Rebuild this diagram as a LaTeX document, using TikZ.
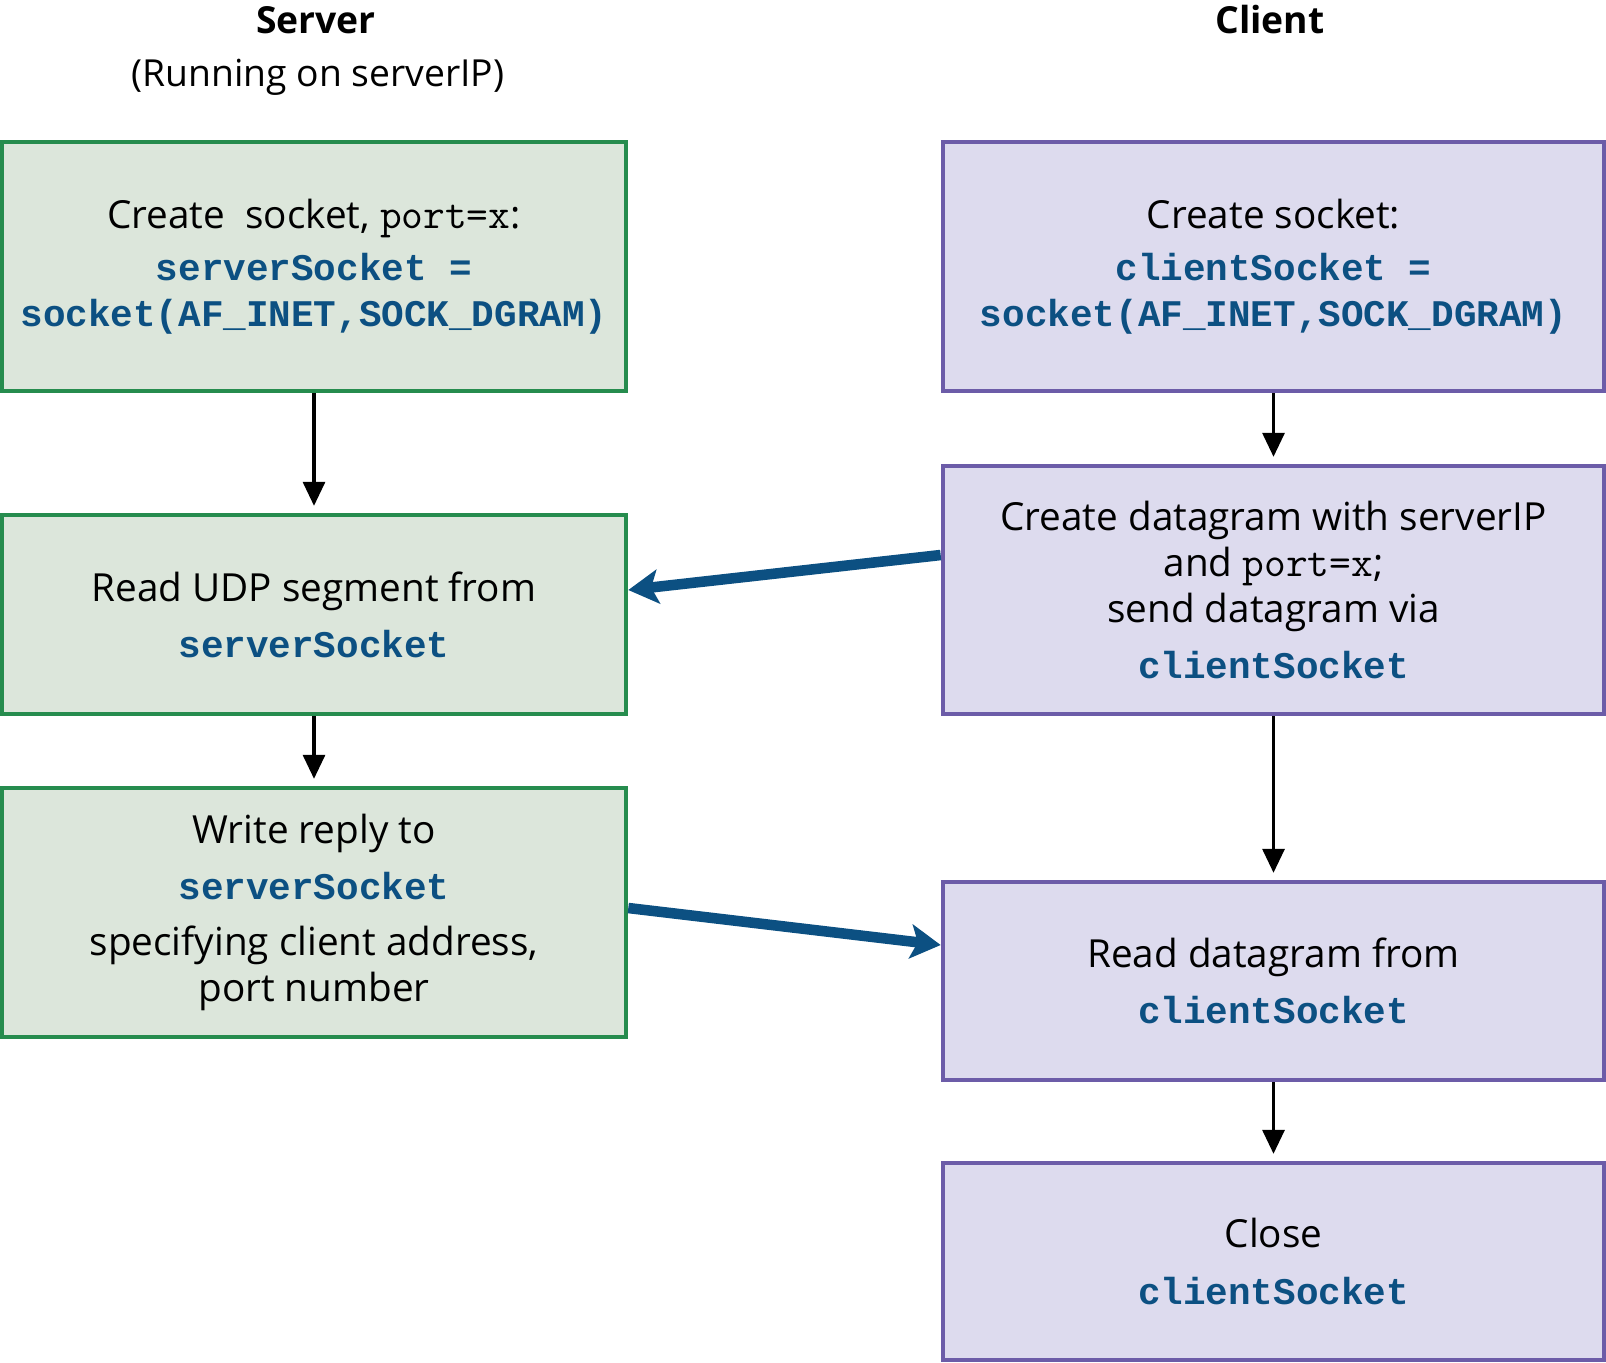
\documentclass[tikz,border=0pt]{standalone}
\usepackage{fontspec}
\setmainfont{Open Sans}
\newfontfamily\codefont{Liberation Mono}
\usepackage{xcolor}
\usepackage{tikz}
\usetikzlibrary{arrows.meta}

\definecolor{srvfill}{RGB}{220,230,219}
\definecolor{srvline}{RGB}{38,140,78}
\definecolor{clifill}{RGB}{221,219,238}
\definecolor{cliline}{RGB}{108,92,168}
\definecolor{codeblue}{RGB}{12,80,130}
\newcommand{\code}[1]{{\codefont\bfseries\fontsize{10.7}{13}\selectfont\color{codeblue}#1}}
\newcommand{\plain}[1]{{\ttfamily\fontsize{12}{13}\selectfont #1}}

\tikzset{
	box/.style={draw, line width=1.2pt, align=center, inner sep=0pt,
		font=\fontsize{11}{13}\selectfont},
	srvbox/.style={box, draw=srvline, fill=srvfill, minimum width=6.24cm},
	clibox/.style={box, draw=cliline, fill=clifill, minimum width=6.61cm},
	title/.style={font=\fontsize{10.6}{13}\selectfont},
	flow/.style={-{Triangle[length=0.24cm,width=0.22cm]}, line width=0.9pt},
	msg/.style={-{Stealth[length=0.3cm,width=0.34cm,inset=0.07cm]},
		line width=3pt, draw=codeblue}
}

\begin{document}
\begin{tikzpicture}[x=0.01cm, y=-0.01cm]
	\useasboundingbox (0,0) rectangle (1606,1362);
	% column titles
	\node[title, font=\fontsize{10.6}{13}\selectfont\bfseries] (srvtitle) at (316,20) {Server};
	\node[title] (srvnote) at (318,77) {(Running on serverIP)};
	\node[title, font=\fontsize{10.6}{13}\selectfont\bfseries] (clititle) at (1270,20) {Client};
	
	% server side
	\node[srvbox, minimum height=2.49cm] (S1) at (314,266.5)
		{Create\ \ socket, \plain{port=x}:\\[2pt]
		 \code{serverSocket =}\\
		 \code{socket(AF\_INET,SOCK\_DGRAM)}};
	\node[srvbox, minimum height=1.99cm] (S2) at (314,614.5)
		{Read UDP segment from\\[3pt]
		 \code{serverSocket}};
	\node[srvbox, minimum height=2.49cm] (S3) at (314,912.5)
		{Write reply to\\[3pt]
		 \code{serverSocket}\\[3pt]
		 specifying client address,\\
		 port number};
	
	% client side
	\node[clibox, minimum height=2.49cm] (C1) at (1273.5,266.5)
		{Create socket:\\[2pt]
		 \code{clientSocket =}\\
		 \code{socket(AF\_INET,SOCK\_DGRAM)}};
	\node[clibox, minimum height=2.48cm] (C2) at (1273.5,590)
		{Create datagram with serverIP\\
		 and \plain{port=x};\\
		 send datagram via\\[3pt]
		 \code{clientSocket}};
	\node[clibox, minimum height=1.98cm] (C3) at (1273.5,981)
		{Read datagram from\\[3pt]
		 \code{clientSocket}};
	\node[clibox, minimum height=1.97cm] (C4) at (1273.5,1261.5)
		{Close\\[3pt]
		 \code{clientSocket}};
	
	\foreach \a/\b in {S1/S2, S2/S3, C1/C2, C2/C3, C3/C4}{
		\draw[flow, shorten >=2pt] (\a) -- (\b);
	}
	
	% messages between the hosts
	\draw[msg] (C2.west |- 0,555) -- (S2.east |- 0,590);
	\draw[msg] (S3.east |- 0,908) -- (C3.west |- 0,945);
\end{tikzpicture}
\end{document}
